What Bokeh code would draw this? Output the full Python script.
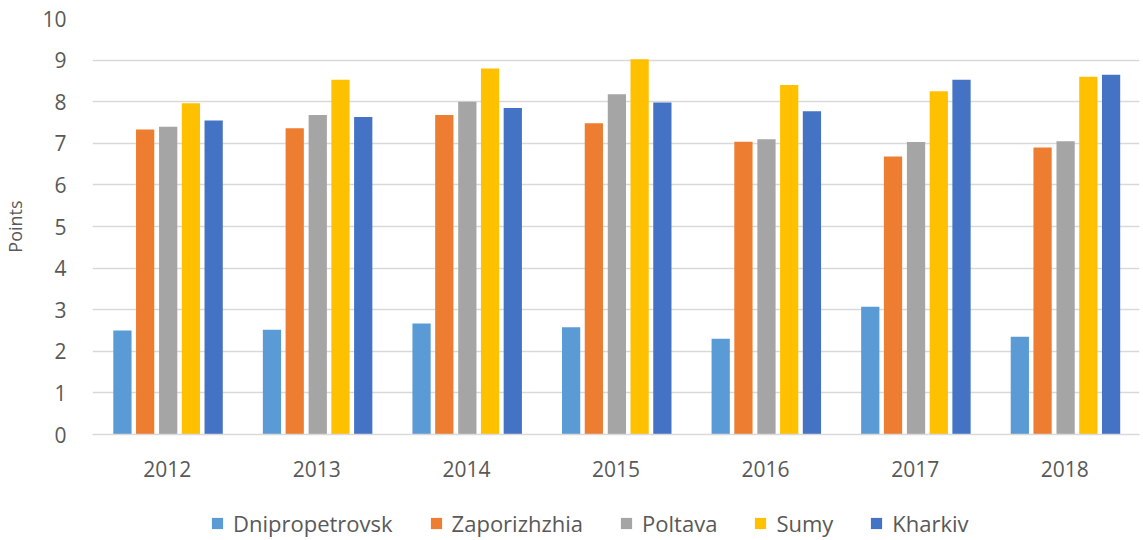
from bokeh.plotting import figure
from bokeh.layouts import column
from bokeh.models import ColumnDataSource, Legend, LegendItem, SingleIntervalTicker
from bokeh.transform import dodge
from bokeh.embed import file_html
from bokeh.resources import INLINE

years = ["2012", "2013", "2014", "2015", "2016", "2017", "2018"]
dnipropetrovsk = [2.50, 2.52, 2.67, 2.58, 2.30, 3.07, 2.35]
zaporizhzhia = [7.33, 7.36, 7.68, 7.48, 7.04, 6.68, 6.90]
poltava = [7.40, 7.68, 8.00, 8.18, 7.10, 7.03, 7.05]
sumy = [7.96, 8.53, 8.80, 9.02, 8.40, 8.25, 8.60]
kharkiv = [7.55, 7.63, 7.85, 7.98, 7.77, 8.53, 8.65]

series_names = ["Dnipropetrovsk", "Zaporizhzhia", "Poltava", "Sumy", "Kharkiv"]
series_keys = ["dn", "za", "po", "su", "kh"]
colors = ["#5B9BD5", "#ED7D31", "#A5A5A5", "#FFC000", "#4472C4"]

source = ColumnDataSource(dict(x=years, dn=dnipropetrovsk, za=zaporizhzhia,
                               po=poltava, su=sumy, kh=kharkiv))

FONT = "Open Sans"
TXT = "#595959"

p = figure(x_range=years, y_range=(0, 10), frame_width=1047, frame_height=416,
           output_backend="svg", toolbar_location=None,
           min_border_left=85, min_border_top=18, min_border_right=2,
           min_border_bottom=70)

offsets = [-0.3, -0.148, 0.006, 0.158, 0.31]
for key, col, off in zip(series_keys, colors, offsets):
    p.vbar(x=dodge("x", off, range=p.x_range), top=key, width=0.122,
           source=source, fill_color=col, line_color=None)

p.outline_line_color = None
p.xgrid.grid_line_color = None
p.ygrid.grid_line_color = "#D9D9D9"
p.ygrid.grid_line_width = 1.5
p.yaxis.ticker = SingleIntervalTicker(interval=1)
p.yaxis.axis_line_color = None
p.yaxis.major_tick_line_color = None
p.yaxis.minor_tick_line_color = None
p.yaxis.major_label_text_font = FONT
p.yaxis.major_label_text_font_size = "21px"
p.yaxis.major_label_text_color = TXT
p.yaxis.major_label_standoff = 20
p.yaxis.axis_label = "Points"
p.yaxis.axis_label_text_font = FONT
p.yaxis.axis_label_text_font_size = "18px"
p.yaxis.axis_label_text_font_style = "normal"
p.yaxis.axis_label_text_color = TXT
p.yaxis.axis_label_standoff = 12

p.xaxis.axis_line_color = "#D9D9D9"
p.xaxis.axis_line_width = 1.5
p.xaxis.major_tick_line_color = None
p.xaxis.minor_tick_line_color = None
p.xaxis.major_label_text_font = FONT
p.xaxis.major_label_text_font_size = "21px"
p.xaxis.major_label_text_color = TXT
p.xaxis.major_label_standoff = 20

# Legend strip (separate figure so it sits below the axis labels)
q = figure(x_range=years, y_range=(0, 10), width=1135, height=36,
           output_backend="svg", toolbar_location=None,
           x_axis_location=None, y_axis_location=None,
           min_border=0, outline_line_color=None)
q.grid.grid_line_color = None
items = []
for key, name, col in zip(series_keys, series_names, colors):
    # zero-height proxy bars: only their swatches appear in the legend
    r = q.vbar(x="x", top=key, bottom=key, width=0.1, source=source,
               fill_color=col, line_color=None)
    items.append(LegendItem(label=name, renderers=[r]))

legend = Legend(items=items, orientation="horizontal", location=(118, 2),
                label_text_font=FONT, label_text_font_size="22px",
                label_text_color=TXT, glyph_width=14, glyph_height=14,
                label_standoff=9, spacing=36, border_line_color=None,
                background_fill_alpha=0, margin=0, padding=2)
q.add_layout(legend, "center")

layout = column(p, q, spacing=0)
open("out.html", "w").write(file_html(layout, INLINE))
